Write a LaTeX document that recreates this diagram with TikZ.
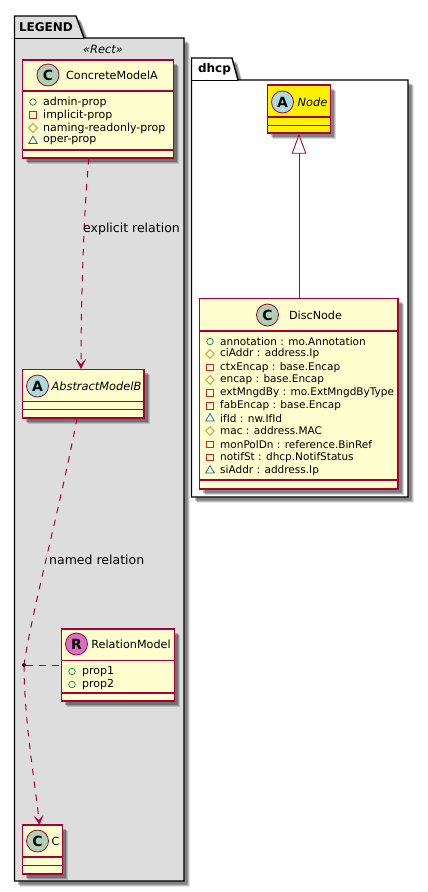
\documentclass[tikz,border=0pt]{standalone}
\usepackage{fontspec}
\setmainfont{DejaVu Sans}
\usetikzlibrary{arrows.meta,shadows,shapes.geometric}
\definecolor{umlfill}{HTML}{FEFECE}
\definecolor{umlline}{HTML}{A80036}
\definecolor{pkgfill}{HTML}{DDDDDD}
\definecolor{spotC}{HTML}{ADD1B2}
\definecolor{spotA}{HTML}{A9DCDF}
\definecolor{spotR}{HTML}{DA70C6}
\definecolor{pubcol}{HTML}{038048}
\definecolor{privcol}{HTML}{C82930}
\definecolor{protcol}{HTML}{B38D22}
\definecolor{packcol}{HTML}{1963A0}
\tikzset{
  softshadow/.style={
    drop shadow={shadow xshift=5.5pt,shadow yshift=-5.5pt,fill=black,opacity=.15},
    drop shadow={shadow xshift=4.5pt,shadow yshift=-4.5pt,fill=black,opacity=.2},
    drop shadow={shadow xshift=3.5pt,shadow yshift=-3.5pt,fill=black,opacity=.25}},
  pkg/.style={draw=black,line width=1.4pt,softshadow},
  pkgsep/.style={draw=black,line width=1pt},
  pkgtitle/.style={font=\fontsize{12}{14}\selectfont\bfseries,inner sep=0pt},
  umlbox/.style={draw=umlline,fill=umlfill,line width=1.3pt,inner sep=0pt,softshadow},
  sep/.style={draw=umlline,line width=1.1pt},
  spot/.style={circle,draw=umlline,line width=.8pt,minimum size=22pt,inner sep=0pt,font=\fontsize{14}{14}\selectfont\bfseries},
  title/.style={font=\fontsize{11.2}{14}\selectfont,inner sep=0pt},
  ititle/.style={font=\fontsize{11.4}{14}\selectfont\itshape,inner sep=0pt},
  attr/.style={anchor=west,font=\fontsize{10.5}{12}\selectfont,inner sep=0pt},
  wideattr/.style={anchor=west,font=\fontsize{11}{12}\selectfont,inner sep=0pt},
  rellabel/.style={anchor=west,font=\fontsize{12.5}{14}\selectfont,inner sep=0pt},
  pub/.style={circle,draw=pubcol,line width=.7pt,minimum size=6.5pt,inner sep=0pt},
  priv/.style={rectangle,draw=privcol,line width=.7pt,minimum size=6.5pt,inner sep=0pt},
  prot/.style={diamond,draw=protcol,line width=.7pt,minimum size=9pt,inner sep=0pt},
  pack/.style={regular polygon,regular polygon sides=3,draw=packcol,line width=.7pt,minimum size=10pt,inner sep=0pt},
  rel/.style={draw=umlline,line width=1pt,dash pattern=on 6.5pt off 6.5pt},
  vee/.style={-{Stealth[length=10pt,width=10pt,inset=5pt]}},
}
\begin{document}
\begin{tikzpicture}[x=1pt,y=-1pt]
\useasboundingbox (0,0) rectangle (428,892);
% packages
\path[pkg,fill=pkgfill] (14.5,16) -- (76,16) -- (84,38) -- (184,38) -- (184,881) -- (14.5,881) -- cycle;
\draw[pkgsep] (14.5,38) -- (84,38);
\path[pkg,fill=white] (191.5,58) -- (232,58) -- (238,80) -- (408,80) -- (408,497) -- (191.5,497) -- cycle;
\draw[pkgsep] (191.5,80) -- (238,80);
\node[pkgtitle] (legend) at (46,27) {LEGEND};
\node[pkgtitle] (dhcp) at (214.5,69) {dhcp};
\node[ititle] (rect) at (103,49) {«Rect»};
% classes
\node[umlbox,minimum width=151pt,minimum height=98pt] (concrete) at (98,109) {};
\draw[sep] (22.5,91) -- (173.5,91);
\draw[sep] (22.5,150) -- (173.5,150);
\node[spot,fill=spotC] (concretespot) at (48,75) {C};
\node[title] (concretetitle) at (112,75.5) {ConcreteModelA};
\node[pub] (c1i) at (33,102) {};
\node[wideattr] (c1) at (43,102) {admin-prop};
\node[priv] (c2i) at (33,115) {};
\node[wideattr] (c2) at (43,115) {implicit-prop};
\node[prot] (c3i) at (33,128) {};
\node[wideattr] (c3) at (43,128) {naming-readonly-prop};
\node[pack] (c4i) at (33,141) {};
\node[wideattr] (c4) at (43,141) {oper-prop};
\node[umlbox,minimum width=121.5pt,minimum height=48.5pt] (abstract) at (83.25,393.75) {};
\draw[sep] (22.5,401.5) -- (144,401.5);
\draw[sep] (22.5,409.5) -- (144,409.5);
\node[spot,fill=spotA] (abstractspot) at (37.5,386) {A};
\node[ititle] (abstracttitle) at (96.5,386) {AbstractModelB};
\node[umlbox,minimum width=113pt,minimum height=72pt] (relmodel) at (118,665) {};
\draw[sep] (61.5,660.5) -- (174.5,660.5);
\draw[sep] (61.5,693) -- (174.5,693);
\node[spot,fill=spotR] (relspot) at (76.5,644) {R};
\node[title] (reltitle) at (131,644.5) {RelationModel};
\node[pub] (r1i) at (72,671.5) {};
\node[wideattr] (r1) at (82,671.5) {prop1};
\node[pub] (r2i) at (72,684.5) {};
\node[wideattr] (r2) at (82,684.5) {prop2};
\node[umlbox,minimum width=40pt,minimum height=49pt] (cc) at (42.5,849.5) {};
\draw[sep] (22.5,857) -- (62.5,857);
\draw[sep] (22.5,865.5) -- (62.5,865.5);
\node[spot,fill=spotC] (ccspot) at (37.5,841) {C};
\node[title] (cctitle) at (55.5,841.5) {C};
\node[umlbox,fill=yellow,minimum width=63pt,minimum height=48pt] (node) at (299,109) {};
\draw[sep] (267.5,117) -- (330.5,117);
\draw[sep] (267.5,125.5) -- (330.5,125.5);
\node[spot,fill=spotA] (nodespot) at (282.5,102) {A};
\node[ititle] (nodetitle) at (312.5,102) {Node};
\node[umlbox,minimum width=198.5pt,minimum height=190.5pt] (disc) at (298.75,393.75) {};
\draw[sep] (199.5,331) -- (398,331);
\draw[sep] (199.5,480) -- (398,480);
\node[spot,fill=spotC] (discspot) at (267.5,315) {C};
\node[title] (disctitle) at (315.5,315.5) {DiscNode};
\node[pub] (d1i) at (210,341.5) {};
\node[attr] (d1) at (220,341.5) {annotation : mo.Annotation};
\node[prot] (d2i) at (210,354) {};
\node[attr] (d2) at (220,354) {ciAddr : address.Ip};
\node[priv] (d3i) at (210,367.5) {};
\node[attr] (d3) at (220,367.5) {ctxEncap : base.Encap};
\node[prot] (d4i) at (210,380) {};
\node[attr] (d4) at (220,380) {encap : base.Encap};
\node[priv] (d5i) at (210,393) {};
\node[attr] (d5) at (220,393) {extMngdBy : mo.ExtMngdByType};
\node[priv] (d6i) at (210,406) {};
\node[attr] (d6) at (220,406) {fabEncap : base.Encap};
\node[pack] (d7i) at (210,418.5) {};
\node[attr] (d7) at (220,418.5) {ifId : nw.IfId};
\node[prot] (d8i) at (210,431) {};
\node[attr] (d8) at (220,431) {mac : address.MAC};
\node[priv] (d9i) at (210,444.5) {};
\node[attr] (d9) at (220,444.5) {monPolDn : reference.BinRef};
\node[priv] (d10i) at (210,457.5) {};
\node[attr] (d10) at (220,457.5) {notifSt : dhcp.NotifStatus};
\node[pack] (d11i) at (210,470.5) {};
\node[attr] (d11) at (220,470.5) {siAddr : address.Ip};
% relations
\coordinate (concretefoot) at (89,158);
\coordinate (abstracthead) at (81,369);
\coordinate (abstractfoot) at (77,418);
\coordinate (cchead) at (39.5,825);
\node[circle,fill=black,minimum size=4pt,inner sep=0pt] (joint) at (24,665) {};
\draw[rel,vee] (concretefoot) .. controls (84,205) and (81,300) .. (abstracthead);
\draw[rel] (abstractfoot) .. controls (62,500) and (32,610) .. (joint.center);
\draw[rel,vee] (joint.center) .. controls (24,720) and (36,790) .. (cchead);
\draw[rel] (joint) -- (relmodel.west |- joint);
\draw[draw=umlline,line width=.9pt,-{Triangle[open,length=20pt,width=14.5pt,fill=white]}] (disc.north -| node.south) -- (node.south);
\node[rellabel] (explicit) at (83,229.5) {explicit relation};
\node[rellabel] (named) at (49,559.5) {named relation};
\end{tikzpicture}
\end{document}
